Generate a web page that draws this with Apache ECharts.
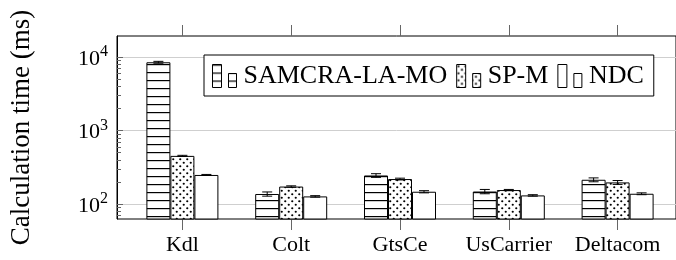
<!DOCTYPE html>
<html>
<head>
<meta charset="utf-8">
<script src="https://cdn.jsdelivr.net/npm/echarts@6/dist/echarts.min.js"></script>
<style>
  html, body { margin: 0; padding: 0; background: #fff; }
  #chart { width: 676px; height: 260px; }
</style>
</head>
<body>
<div id="chart"></div>
<script>
// Data (ms)
const categories = ['Kdl', 'Colt', 'GtsCe', 'UsCarrier', 'Deltacom'];
const seriesNames = ['SAMCRA-LA-MO', 'SP-M', 'NDC'];
const samcraVals = [8550, 137, 245, 148, 214];
const spmVals = [453, 173, 219, 155, 197];
const ndcVals = [249, 127, 147, 131, 138];
// half width of the error bars
const samcraErr = [250, 9, 14, 10, 13];
const spmErr = [8, 4, 6, 3, 12];
const ndcErr = [4, 3, 5, 3, 4];
const majorTicks = [100, 1000, 10000];
const minorTicks = [70, 80, 90, 200, 300, 400, 500, 600, 700, 800, 900,
    2000, 3000, 4000, 5000, 6000, 7000, 8000, 9000];

const yMin = 62.5;
const yMax = 19500;
const barW = 24;
const font = 'Liberation Serif';

// fill patterns for the bars
const makePattern = (kind) => {
    const c = document.createElement('canvas');
    const ctx = c.getContext('2d');
    if (kind === 'hlines') {
        c.width = 8; c.height = 8;
        ctx.fillStyle = '#fff';
        ctx.fillRect(0, 0, 8, 8);
        ctx.fillStyle = '#000';
        ctx.fillRect(0, 0, 8, 1.2);
    } else {
        c.width = 7; c.height = 7;
        ctx.fillStyle = '#fff';
        ctx.fillRect(0, 0, 7, 7);
        ctx.fillStyle = '#000';
        ctx.beginPath();
        ctx.arc(1.75, 1.75, 1.1, 0, Math.PI * 2);
        ctx.arc(5.25, 5.25, 1.1, 0, Math.PI * 2);
        ctx.fill();
    }
    return { image: c, repeat: 'repeat' };
};

const fills = [makePattern('hlines'), makePattern('dots'), '#fff'];
const values = [samcraVals, spmVals, ndcVals];
const errors = [samcraErr, spmErr, ndcErr];

const chart = echarts.init(document.getElementById('chart'), null, { renderer: 'canvas' });

const barSeries = seriesNames.map((name, k) => ({
    name: name,
    type: 'bar',
    xAxisIndex: 1,
    yAxisIndex: 2,
    barWidth: barW,
    barGap: '0%',
    clip: true,
    data: values[k],
    itemStyle: { color: fills[k], borderColor: '#000', borderWidth: 1 },
    emphasis: { disabled: true },
    z: 3
}));

// error bars drawn on top of each bar
const errSeries = seriesNames.map((name, k) => ({
    type: 'custom',
    xAxisIndex: 1,
    yAxisIndex: 2,
    z: 5,
    silent: true,
    data: values[k].map((v, i) => [i, v - errors[k][i], v + errors[k][i]]),
    renderItem: (params, api) => {
        const lo = api.coord([api.value(0), api.value(1)]);
        const hi = api.coord([api.value(0), api.value(2)]);
        const x = lo[0] + (k - 1) * barW;
        const cap = 5;
        const style = { stroke: '#000', lineWidth: 1 };
        return {
            type: 'group',
            children: [
                { type: 'line', shape: { x1: x, y1: lo[1], x2: x, y2: hi[1] }, style: style },
                { type: 'line', shape: { x1: x - cap, y1: lo[1], x2: x + cap, y2: lo[1] }, style: style },
                { type: 'line', shape: { x1: x - cap, y1: hi[1], x2: x + cap, y2: hi[1] }, style: style }
            ]
        };
    }
}));

const tickStyle = { color: '#666', width: 1 };

const option = {
    backgroundColor: '#fff',
    animation: false,
    textStyle: { fontFamily: font },
    grid: [
        // frame + log axis
        { left: 117, right: -10, top: 36, bottom: 41, show: true, borderColor: '#000', borderWidth: 1 },
        // bars
        { left: 128, right: 4, top: 36, bottom: 41 }
    ],
    legend: {
        data: seriesNames,
        left: 204,
        top: 55,
        orient: 'horizontal',
        padding: [8, 10, 7, 8],
        itemWidth: 24,
        itemHeight: 23,
        itemGap: 9,
        icon: 'path://M0,0h9v23h-9z M16,9h8v14h-8z',
        backgroundColor: '#fff',
        borderColor: '#000',
        borderWidth: 1,
        itemStyle: { borderColor: '#000', borderWidth: 1 },
        textStyle: { fontFamily: font, fontSize: 26, color: '#000', padding: [0, 0, 0, 2] },
        selectedMode: false
    },
    xAxis: [
        { type: 'value', gridIndex: 0, show: false, min: 0, max: 1 },
        {
            type: 'category', gridIndex: 1, data: categories, position: 'bottom',
            axisLine: { show: false },
            axisTick: { show: true, interval: 0, alignWithLabel: true, length: 11, lineStyle: tickStyle },
            axisLabel: { interval: 0, fontFamily: font, fontSize: 22, color: '#000', margin: 15 }
        },
        {
            type: 'category', gridIndex: 1, data: categories, position: 'top',
            axisLine: { show: false },
            axisTick: { show: true, interval: 0, alignWithLabel: true, length: 11, lineStyle: tickStyle },
            axisLabel: { show: false }
        }
    ],
    yAxis: [
        {
            type: 'log', gridIndex: 0, position: 'left', min: yMin, max: yMax, logBase: 10,
            name: 'Calculation time (ms)',
            nameLocation: 'middle',
            nameGap: 82,
            nameTextStyle: { fontFamily: font, fontSize: 27, color: '#000' },
            axisLine: { show: true, lineStyle: { color: '#000' } },
            axisTick: { show: true, inside: true, length: 6, customValues: majorTicks, lineStyle: tickStyle },
            splitLine: { show: true, lineStyle: { color: '#cfcfcf', width: 1 } },
            axisLabel: {
                margin: 9,
                customValues: majorTicks,
                formatter: (v) => {
                    const e = Math.round(Math.log10(v));
                    return '{b|10}{s|' + e + '}';
                },
                rich: {
                    b: { fontFamily: font, fontSize: 22, color: '#000', lineHeight: 26, verticalAlign: 'bottom' },
                    s: { fontFamily: font, fontSize: 16, color: '#000', lineHeight: 26, verticalAlign: 'top' }
                }
            }
        },
        {
            type: 'log', gridIndex: 0, position: 'left', offset: 0, min: yMin, max: yMax, logBase: 10,
            axisLine: { show: false },
            axisTick: { show: true, inside: true, length: 4, customValues: minorTicks, lineStyle: tickStyle },
            axisLabel: { show: false },
            splitLine: { show: false }
        },
        {
            type: 'log', gridIndex: 1, min: yMin, max: yMax, logBase: 10,
            axisLine: { show: false }, axisTick: { show: false }, axisLabel: { show: false }, splitLine: { show: false }
        }
    ],
    series: barSeries.concat(errSeries)
};

chart.setOption(option);
</script>
</body>
</html>
